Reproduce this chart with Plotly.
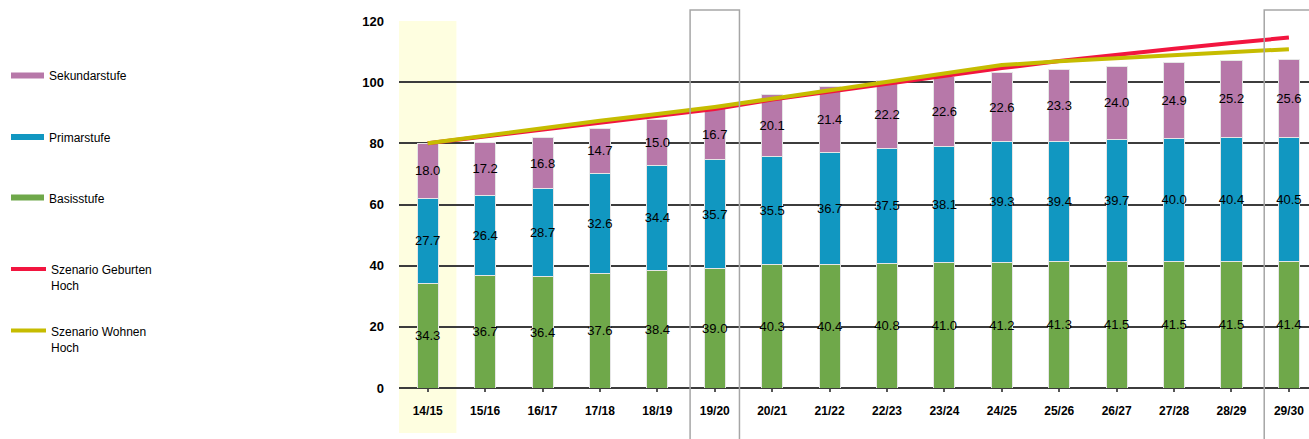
import plotly.graph_objects as go

# School years (categories on the x axis)
years = ["14/15", "15/16", "16/17", "17/18", "18/19", "19/20", "20/21", "21/22",
         "22/23", "23/24", "24/25", "25/26", "26/27", "27/28", "28/29", "29/30"]

# Stacked pupil counts per level
basisstufe = [34.3, 36.7, 36.4, 37.6, 38.4, 39.0, 40.3, 40.4,
              40.8, 41.0, 41.2, 41.3, 41.5, 41.5, 41.5, 41.4]
primarstufe = [27.7, 26.4, 28.7, 32.6, 34.4, 35.7, 35.5, 36.7,
               37.5, 38.1, 39.3, 39.4, 39.7, 40.0, 40.4, 40.5]
sekundarstufe = [18.0, 17.2, 16.8, 14.7, 15.0, 16.7, 20.1, 21.4,
                 22.2, 22.6, 22.6, 23.3, 24.0, 24.9, 25.2, 25.6]

# Scenario totals
geburten_hoch = [80.0, 82.2, 84.6, 86.9, 89.0, 91.2, 94.3, 96.9,
                 99.5, 102.0, 104.6, 106.9, 109.0, 110.9, 112.8, 114.6]
wohnen_hoch = [80.0, 82.5, 85.0, 87.4, 89.6, 91.9, 94.6, 97.4,
               100.2, 102.9, 105.6, 106.8, 107.8, 108.8, 109.8, 110.8]

y_ticks = [0, 20, 40, 60, 80, 100, 120]

C_BASIS = "#6fa84a"
C_PRIMAR = "#1197c1"
C_SEK = "#b778a9"
C_GEB = "#f2153f"
C_WOHN = "#c6bc00"

W, H = 1309, 439
L, T, B = 399, 21, 51
PW, PH = W - L, H - T - B

bar_font = dict(family="Liberation Sans Narrow, Arial Narrow, Liberation Sans, Arial",
                size=13, color="black")


def px_x(p):
    return (p - L) / PW


def px_y(p):
    return (H - B - p) / PH


fig = go.Figure()

for name, vals, col in [("Basisstufe", basisstufe, C_BASIS),
                        ("Primarstufe", primarstufe, C_PRIMAR),
                        ("Sekundarstufe", sekundarstufe, C_SEK)]:
    fig.add_trace(go.Bar(
        x=years, y=vals, name=name, width=0.366,
        marker=dict(color=col, line=dict(color="#e6e6e6", width=1)),
        text=[f"{v:.1f}" for v in vals], textposition="inside",
        insidetextanchor="middle", textangle=0, constraintext="none",
        insidetextfont=bar_font, showlegend=False,
    ))

fig.add_trace(go.Scatter(x=years, y=geburten_hoch, name="Szenario Geburten Hoch",
                         mode="lines", line=dict(color=C_GEB, width=4), showlegend=False))
fig.add_trace(go.Scatter(x=years, y=wohnen_hoch, name="Szenario Wohnen Hoch",
                         mode="lines", line=dict(color=C_WOHN, width=4), showlegend=False))

shapes = []
# highlighted base year
shapes.append(dict(type="rect", xref="x", yref="paper", x0=-0.5, x1=0.5,
                   y0=px_y(433), y1=1.0, fillcolor="#fefee0",
                   line=dict(width=0), layer="below"))
# framed years
for i in (5, 15):
    shapes.append(dict(type="rect", xref="x", yref="paper", x0=i - 0.43, x1=i + 0.43,
                       y0=px_y(446), y1=px_y(10), fillcolor="rgba(0,0,0,0)",
                       line=dict(color="#a6a6a6", width=1.5), layer="above"))

# legend on the left
legend_items = [
    ("Sekundarstufe", C_SEK, 75.5, 6),
    ("Primarstufe", C_PRIMAR, 137, 6),
    ("Basisstufe", C_BASIS, 197.5, 6),
    ("Szenario Geburten<br>Hoch", C_GEB, 269, 4),
    ("Szenario Wohnen<br>Hoch", C_WOHN, 330.5, 4),
]
annotations = []
for label, col, yc, lw in legend_items:
    two_line = "<br>" in label
    x1 = 46 if two_line else 44
    shapes.append(dict(type="line", xref="paper", yref="paper",
                       x0=px_x(11), x1=px_x(x1), y0=px_y(yc), y1=px_y(yc),
                       line=dict(color=col, width=lw)))
    annotations.append(dict(
        text=label, xref="paper", yref="paper",
        x=px_x(49 if two_line else 47),
        y=px_y(yc - 8) if two_line else px_y(yc + 1),
        xanchor="left", yanchor="top" if two_line else "middle",
        align="left", showarrow=False,
        font=dict(family="Liberation Sans, Arial", size=12, color="black"),
    ))

fig.update_layout(
    width=W, height=H,
    margin=dict(l=L, r=0, t=T, b=B),
    paper_bgcolor="white", plot_bgcolor="rgba(0,0,0,0)",
    barmode="stack", bargap=0.6,
    shapes=shapes, annotations=annotations,
    showlegend=False,
    xaxis=dict(
        type="category", range=[-0.5, 15.35], showgrid=False,
        ticks="outside", ticklen=3, tickwidth=2, tickcolor="#555555",
        tickfont=dict(family="Liberation Sans, Arial", size=12, color="black", weight="bold"),
        ticklabelstandoff=9, showline=False, zeroline=False,
    ),
    yaxis=dict(
        range=[0, 120], tickvals=y_ticks, showgrid=True,
        gridcolor="#3c3c3c", gridwidth=1.5,
        zeroline=True, zerolinecolor="#3c3c3c", zerolinewidth=1.5,
        tickfont=dict(family="Liberation Sans, Arial", size=13, color="black", weight="bold"),
        ticks="", ticklabelstandoff=14, showline=False,
    ),
)

fig.write_html("out.html")
